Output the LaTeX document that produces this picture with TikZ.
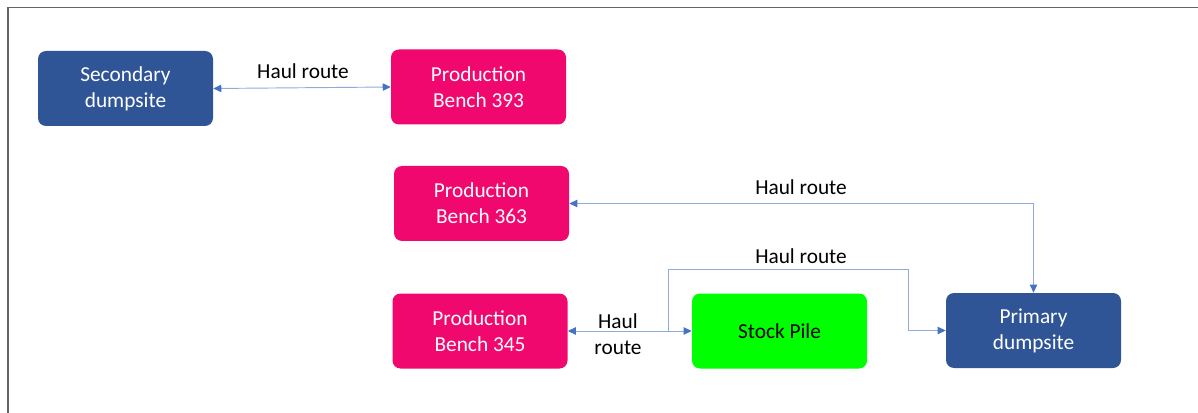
\documentclass[tikz,border=0pt]{standalone}
\usepackage{fontspec}
\setmainfont{Carlito}
\usetikzlibrary{arrows.meta}
\definecolor{dblue}{RGB}{47,85,151}
\definecolor{pinkc}{RGB}{240,8,110}
\definecolor{greenc}{RGB}{0,255,0}
\definecolor{linec}{RGB}{143,170,220}
\definecolor{tipc}{RGB}{68,114,196}
\definecolor{framec}{RGB}{100,100,100}
\tikzset{
  box/.style={rounded corners=6pt, minimum width=131.25pt, minimum height=56.25pt,
    inner sep=0pt, align=center, font=\fontsize{16}{19.5}\selectfont, text=white},
  bluebox/.style={box, fill=dblue},
  pinkbox/.style={box, fill=pinkc},
  greenbox/.style={box, fill=greenc, text=black},
  haul/.style={draw=linec, line width=0.7pt,
    arrows={-Triangle[length=6pt,width=5.5pt,color=tipc]}},
  haulboth/.style={draw=linec, line width=0.7pt,
    arrows={Triangle[length=6pt,width=5.5pt,color=tipc]-Triangle[length=6pt,width=5.5pt,color=tipc]}},
  lbl/.style={font=\fontsize{16}{19.5}\selectfont, align=center, inner sep=0pt, text=black}
}
\begin{document}
\begin{tikzpicture}[x=0.75pt,y=-0.75pt]
\useasboundingbox (0,0) rectangle (1198,413);
\draw[framec, line width=1.3pt] (8,413) -- (8,7.5) -- (1198,7.5);

\node[bluebox] (sec) at (125.5,88.5) {Secondary\\dumpsite};
\node[pinkbox] (b393) at (478.5,87) {Production\\Bench 393};
\node[pinkbox] (b363) at (481.5,203.5) {Production\\Bench 363};
\node[pinkbox] (b345) at (480,331) {Production\\Bench 345};
\node[greenbox] (stock) at (779.5,331) {Stock Pile};
\node[bluebox] (prim) at (1033.5,330.5) {Primary\\dumpsite};

\draw[haulboth] (sec.east) -- (b393.west);
\node[lbl] (l1) at (303,71) {Haul route};

\draw[haulboth] (b363.east) -| (prim.north);
\node[lbl] (l2) at (801,187) {Haul route};

\draw[haulboth] (b345.east) -- (stock.west);
\node[lbl] (l3) at (618,334) {Haul\\route};

\coordinate (br) at (668,331);
\coordinate (k1) at (908,269);
\draw[haul] (br) |- (k1) |- (prim.west);
\node[lbl] (l4) at (801,256) {Haul route};
\end{tikzpicture}
\end{document}
